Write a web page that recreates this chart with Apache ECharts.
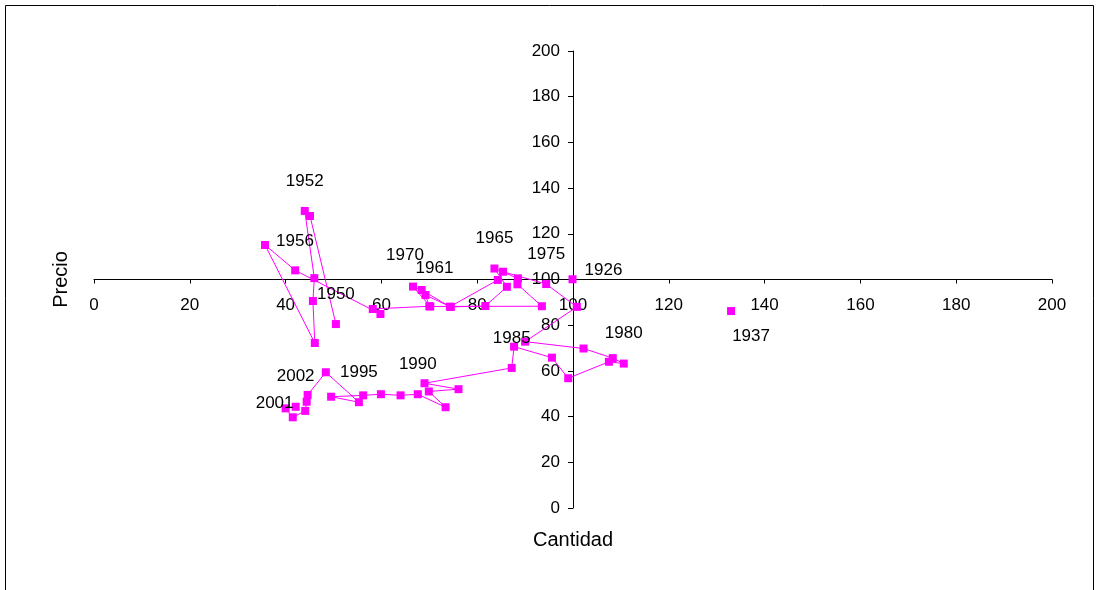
<!DOCTYPE html>
<html>
	<head>
		<meta charset="UTF-8">
		<title>Precio - Cantidad</title>
		<style>
			html, body { margin: 0; padding: 0; background: #fff; }
			#main { width: 1098px; height: 590px; }
		</style>
	</head>
	<body>
		<div id="main"></div>
	</body>
	<script src="https://cdn.jsdelivr.net/npm/echarts@6/dist/echarts.min.js"></script>
	<script type="text/javascript">
		// datos: año, cantidad, precio
		var years = [1926, 1937,
			1950, 1951, 1952, 1953, 1954, 1955, 1956, 1957, 1958, 1959,
			1960, 1961, 1962, 1963, 1964, 1965, 1966, 1967, 1968, 1969,
			1970, 1971, 1972, 1973, 1974, 1975, 1976, 1977, 1978, 1979,
			1980, 1981, 1982, 1983, 1984, 1985, 1986, 1987, 1988, 1989,
			1990, 1991, 1992, 1993, 1994, 1995, 1996, 1997, 1998, 1999,
			2000, 2001, 2002];
		var cantidad = [99.9, 133.0,
			50.5, 45.1, 44.0, 46.0, 45.7, 46.1, 35.7, 42.0, 59.8, 58.2,
			70.0, 69.2, 74.5, 81.7, 86.2, 83.6, 88.5, 88.4, 93.5, 70.2,
			66.6, 68.4, 74.3, 84.3, 85.4, 94.4, 100.8, 90.0, 102.2, 108.3,
			110.6, 107.5, 99.0, 95.6, 87.7, 87.2, 69.0, 76.1, 69.9, 73.4,
			67.6, 64.0, 59.9, 56.2, 49.5, 55.3, 48.4, 44.6, 44.4, 44.1,
			41.5, 40.0, 42.1];
		var precio = [100.1, 86.2,
			80.5, 127.8, 130.0, 100.6, 90.6, 72.2, 115.1, 104.0, 84.9, 87.1,
			88.3, 93.2, 88.0, 88.4, 96.8, 104.8, 100.5, 97.9, 88.3, 88.2,
			96.9, 95.4, 88.1, 99.8, 103.4, 98.0, 88.0, 72.8, 69.8, 65.6,
			63.2, 64.0, 56.8, 65.8, 70.6, 61.3, 54.6, 52.0, 51.0, 44.1,
			49.8, 49.3, 49.8, 49.3, 48.7, 46.3, 59.4, 49.5, 46.5, 42.5,
			39.7, 43.6, 44.3];
		// años con etiqueta
		var labelYears = [1926, 1937, 1950, 1952, 1956, 1961, 1965, 1970, 1975, 1980, 1985, 1990, 1995, 2001, 2002];
		var xTicks = { min: 0, max: 200, step: 20 };
		var yTicks = { min: 0, max: 200, step: 20 };

		// desplazamiento de cada etiqueta respecto al punto (px)
		var labelOffset = {
			1926: [31, -9], 1937: [20, 25], 1956: [30, -4], 1961: [9, -27],
			1970: [-8, -31], 2001: [-11, -5]
		};
		var fontFam = '"Liberation Sans", Arial, sans-serif';

		function punto(i){
			var item = { value: [cantidad[i], precio[i]] };
			if (labelYears.indexOf(years[i]) >= 0) {
				item.label = {
					show: true,
					formatter: String(years[i]),
					position: 'inside',
					offset: labelOffset[years[i]] || [0, -30],
					color: '#000',
					fontSize: 17,
					fontFamily: fontFam
				};
			}
			return item;
		}

		var serie = [], sueltos = [];
		for (var i = 0; i < years.length; i++) {
			if (years[i] >= 1950) serie.push(punto(i));
			else sueltos.push(punto(i));
		}

		var vChart = echarts.init(document.getElementById('main'));
		var magenta = '#FF00FF';
		var option = {
			animation: false,
			backgroundColor: '#fff',
			grid: { left: 94, right: 46, top: 51, bottom: 82, containLabel: false },
			graphic: [{
				type: 'rect',
				shape: { x: 5.5, y: 5.5, width: 1088, height: 700 },
				style: { fill: 'none', stroke: '#000', lineWidth: 1 },
				silent: true
			}],
			xAxis: {
				type: 'value',
				min: xTicks.min, max: xTicks.max, interval: xTicks.step,
				position: 'bottom',
				offset: -228.5,
				name: 'Cantidad',
				nameLocation: 'middle',
				nameGap: 251,
				nameTextStyle: { color: '#000', fontSize: 20, fontFamily: fontFam },
				axisLine: { show: true, lineStyle: { color: '#000', width: 1 } },
				axisTick: { show: true, length: 4, lineStyle: { color: '#000' } },
				axisLabel: { color: '#000', fontSize: 17, fontFamily: fontFam, margin: 17 },
				splitLine: { show: false }
			},
			yAxis: {
				type: 'value',
				min: yTicks.min, max: yTicks.max, interval: yTicks.step,
				position: 'left',
				offset: -479,
				name: 'Precio',
				nameLocation: 'middle',
				nameGap: 502,
				nameTextStyle: { color: '#000', fontSize: 20, fontFamily: fontFam },
				axisLine: { show: true, lineStyle: { color: '#000', width: 1 } },
				axisTick: { show: true, length: 5, lineStyle: { color: '#000' } },
				axisLabel: { color: '#000', fontSize: 17, fontFamily: fontFam, margin: 13 },
				splitLine: { show: false }
			},
			series: [{
				type: 'line',
				data: serie,
				symbol: 'rect',
				symbolSize: 8,
				showAllSymbol: true,
				itemStyle: { color: magenta, opacity: 1 },
				lineStyle: { color: magenta, width: 1 },
				z: 3
			}, {
				type: 'scatter',
				data: sueltos,
				symbol: 'rect',
				symbolSize: 8,
				itemStyle: { color: magenta, opacity: 1 },
				z: 3
			}]
		};
		vChart.setOption(option);
	</script>
</html>
